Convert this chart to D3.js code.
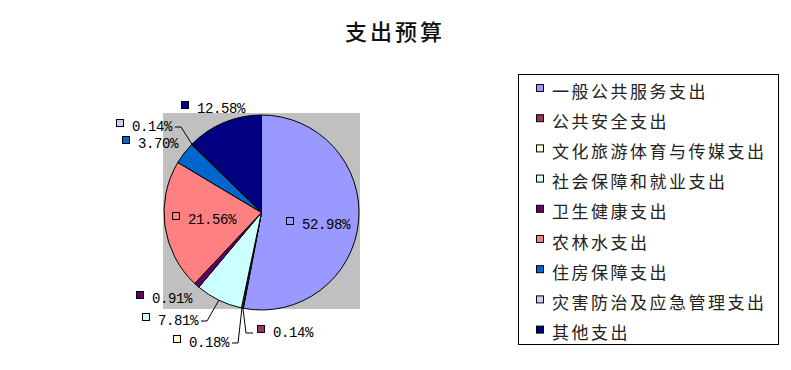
<!DOCTYPE html>
<html><head><meta charset="utf-8">
<script src="https://cdn.jsdelivr.net/npm/d3@7"></script>
<style>body{margin:0;background:#fff}svg{display:block}</style>
</head><body>
<svg id="c" width="791" height="370"></svg>
<script>
const title = "支出预算";
const categories = ["一般公共服务支出","公共安全支出","文化旅游体育与传媒支出","社会保障和就业支出","卫生健康支出","农林水支出","住房保障支出","灾害防治及应急管理支出","其他支出"];
const values = [52.98, 0.14, 0.18, 7.81, 0.91, 21.56, 3.70, 0.14, 12.58];
const valueLabels = ["52.98%","0.14%","0.18%","7.81%","0.91%","21.56%","3.70%","0.14%","12.58%"];
const colors = ["#9999FF","#993366","#FFFFCC","#CCFFFF","#660066","#FF8080","#0066CC","#CCCCFF","#000080"];

// label layout (offsets from pie centre, pixels), and which labels use leader lines
const labelOffsets = [[40.5,12.5],[11.5,120.5],[-72.5,130.5],[-103.5,108.5],[-109.5,86.5],[-73.5,7.5],[-123.5,-68.5],[-129.5,-85.5],[-64.5,-103.5]];
const leaders = [false,true,true,true,false,false,false,true,false];

const svg = d3.select("#c");
const cx = 261.5, cy = 212.5, R = 97.5;

svg.append("text").attr("x", 395).attr("y", 30).attr("text-anchor","middle")
  .attr("dominant-baseline","central")
  .style("font-family","'Noto Sans CJK SC'").style("font-size","22px").style("font-weight","500")
  .style("letter-spacing","3px").attr("fill","#111").text(title);

// plot area
svg.append("rect").attr("x",163).attr("y",113).attr("width",197).attr("height",196).attr("fill","#C0C0C0");

const pie = d3.pie().sort(null).value(d=>d)(values);
const arc = d3.arc().innerRadius(0).outerRadius(R);
const g = svg.append("g").attr("transform",`translate(${cx},${cy})`);
g.selectAll("path").data(pie).join("path").attr("d",arc)
  .attr("fill",(d,i)=>colors[i]).attr("stroke","#000").attr("stroke-width",1);

// labels
const lg = svg.append("g");
pie.forEach((d,i)=>{
  const tx = cx + labelOffsets[i][0], ty = cy + labelOffsets[i][1];
  const t = lg.append("text").attr("x",tx).attr("y",ty).attr("dominant-baseline","central")
    .style("font-family","'Liberation Mono', monospace").style("font-size","14px")
    .style("letter-spacing","-0.4px").attr("fill","#000")
    .text(valueLabels[i]);
  const w = t.node().getComputedTextLength();
  lg.append("rect").attr("x",tx-15.5).attr("y",ty-7.5).attr("width",7).attr("height",7)
    .attr("fill",colors[i]).attr("stroke","#000").attr("stroke-width",1);
  if (leaders[i]) {
    const a = (d.startAngle+d.endAngle)/2;
    const ex = cx + R*Math.sin(a), ey = cy - R*Math.cos(a);
    let pts;
    if (ex > tx) {
      const sx = tx + w + 3;
      pts = [[sx,ty],[sx+6,ty],[ex,ey]];
    } else {
      const sx = tx - 20;
      pts = [[sx,ty],[sx-7,ty],[ex,ey]];
    }
    lg.append("path").attr("d",d3.line()(pts)).attr("fill","none").attr("stroke","#000").attr("stroke-width",1);
  }
});

// legend
svg.append("rect").attr("x",518.5).attr("y",74.5).attr("width",260).attr("height",270)
  .attr("fill","#fff").attr("stroke","#000").attr("stroke-width",1);
const leg = svg.append("g");
categories.forEach((c,i)=>{
  const y = 89 + i*30.2;
  leg.append("rect").attr("x",536.5).attr("y",y-4.5).attr("width",7).attr("height",7)
    .attr("fill",colors[i]).attr("stroke","#000").attr("stroke-width",1);
  leg.append("text").attr("x",552).attr("y",y+1).attr("dominant-baseline","central")
    .style("font-family","'Noto Sans CJK SC'").style("font-size","17px").style("letter-spacing","2.5px")
    .attr("fill","#222").text(c);
});
</script>
</body></html>
